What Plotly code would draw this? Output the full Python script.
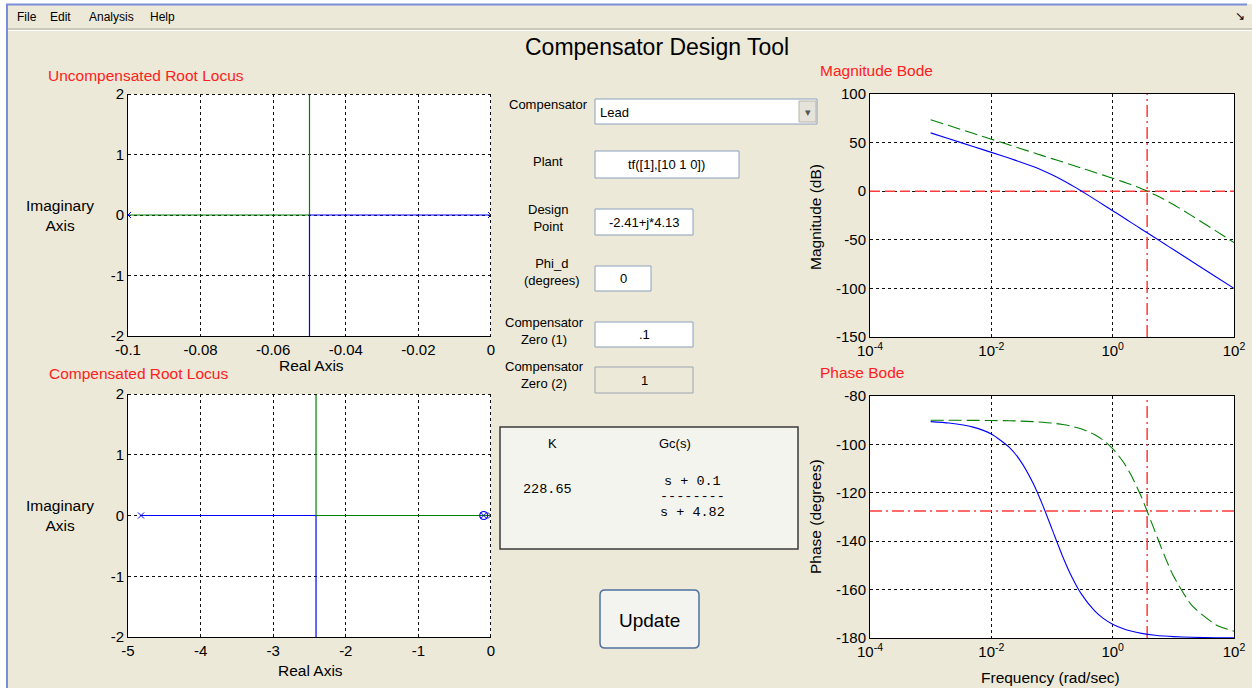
import plotly.graph_objects as go

W, H = 1252, 688
def px(x): return x / W
def py(y): return 1 - y / H

# ---------------- data ----------------
# Uncompensated root locus (plant 1/(10s^2+s))
unc_poles = [-0.1, 0.0]
unc_green_re = [-0.1, -0.05, -0.05]
unc_green_im = [0.0, 0.0, 2.5]
unc_blue_re = [0.0, -0.05, -0.05]
unc_blue_im = [0.0, 0.0, -2.5]

# Compensated root locus
comp_poles = [-4.82, -0.1, 0.0]
comp_zeros = [-0.1]
comp_blue_re = [-4.82, -2.41, -2.41]
comp_blue_im = [0.0, 0.0, -2.5]
comp_green_re = [0.0, -2.41, -2.41]
comp_green_im = [0.0, 0.0, 2.5]

# Bode data
freq = [0.001, 0.002, 0.005, 0.01, 0.02, 0.03, 0.05, 0.07, 0.1, 0.15, 0.2, 0.3,
        0.5, 0.7, 1, 1.5, 2, 3, 5, 7, 10, 20, 50, 100]
mag_unc = [60.0, 53.98, 46.01, 39.96, 33.81, 30.08, 25.05, 21.36, 16.99, 11.36, 6.99, 0.46,
           -8.13, -13.89, -20.04, -27.06, -32.05, -39.09, -47.96, -53.80, -60.0, -72.04, -87.96, -100.0]
mag_comp = [73.52, 67.50, 59.54, 53.52, 47.50, 43.97, 39.54, 36.61, 33.52, 30.00, 27.49, 23.96,
            19.49, 16.53, 13.34, 9.60, 6.81, 2.55, -3.63, -8.31, -13.73, -25.11, -40.82, -52.83]
phase_unc = [-90.57, -91.15, -92.86, -95.71, -101.31, -106.70, -116.57, -124.99, -135.0, -146.31, -153.43, -161.57,
             -168.69, -171.87, -174.29, -176.19, -177.14, -178.09, -178.85, -179.18, -179.43, -179.71, -179.89, -179.94]
phase_comp = [-90.01, -90.03, -90.06, -90.12, -90.24, -90.36, -90.60, -90.83, -91.19, -91.78, -92.37, -93.56,
              -95.92, -98.26, -101.72, -107.29, -112.54, -121.90, -136.04, -145.45, -154.26, -166.45, -174.49, -177.24]
crossover_w = 3.7
crossover_phase = -127.5
freq_range = [1e-4, 1e2]

# tick labels
rl1_xticks = [-0.1, -0.08, -0.06, -0.04, -0.02, 0]
rl1_xtext = ["-0.1", "-0.08", "-0.06", "-0.04", "-0.02", "0"]
rl2_xticks = [-5, -4, -3, -2, -1, 0]
rl2_xtext = ["-5", "-4", "-3", "-2", "-1", "0"]
rl_yticks = [-2, -1, 0, 1, 2]
rl_ytext = ["-2", "-1", "0", "1", "2"]
bode_xticks = [1e-4, 1e-2, 1e0, 1e2]
bode_xtext = ["10<sup>-4</sup>", "10<sup>-2</sup>", "10<sup>0</sup>", "10<sup>2</sup>"]
mag_yticks = [-150, -100, -50, 0, 50, 100]
mag_ytext = ["-150", "-100", "-50", "0", "50", "100"]
ph_yticks = [-180, -160, -140, -120, -100, -80]
ph_ytext = ["-180", "-160", "-140", "-120", "-100", "-80"]

# ---------------- styling ----------------
BG = "#ECE9D8"
BLUE = "#0000FF"
GREEN = "#008000"
RED = "#FF3B3B"
SANS = "Liberation Sans, Arial, sans-serif"
MONO = "Liberation Mono, Courier New, monospace"
GRID = dict(showgrid=True, gridcolor="#111111", gridwidth=1, griddash="3px,3px",
            zeroline=False, showline=True, linecolor="#000000", linewidth=1, automargin=False,
            tickfont=dict(family=SANS, size=15, color="#000000"), ticks="")

fig = go.Figure()

# Uncompensated root locus
fig.add_trace(go.Scatter(x=unc_green_re, y=unc_green_im, mode="lines",
                         line=dict(color=GREEN, width=1.2), xaxis="x", yaxis="y"))
fig.add_trace(go.Scatter(x=unc_blue_re, y=unc_blue_im, mode="lines",
                         line=dict(color=BLUE, width=1.2), xaxis="x", yaxis="y"))
fig.add_trace(go.Scatter(x=unc_poles, y=[0] * len(unc_poles), mode="markers",
                         marker=dict(symbol="x-thin", size=6, line=dict(color=BLUE, width=1)),
                         xaxis="x", yaxis="y"))

# Compensated root locus
fig.add_trace(go.Scatter(x=comp_blue_re, y=comp_blue_im, mode="lines",
                         line=dict(color=BLUE, width=1.2), xaxis="x2", yaxis="y2"))
fig.add_trace(go.Scatter(x=comp_green_re, y=comp_green_im, mode="lines",
                         line=dict(color=GREEN, width=1.2), xaxis="x2", yaxis="y2"))
fig.add_trace(go.Scatter(x=comp_poles, y=[0] * len(comp_poles), mode="markers",
                         marker=dict(symbol="x-thin", size=6, line=dict(color=BLUE, width=1)),
                         xaxis="x2", yaxis="y2"))
fig.add_trace(go.Scatter(x=comp_zeros, y=[0] * len(comp_zeros), mode="markers",
                         marker=dict(symbol="circle-open", size=8, color=BLUE, line=dict(width=1.2)),
                         xaxis="x2", yaxis="y2"))

# Magnitude Bode
fig.add_trace(go.Scatter(x=freq_range, y=[0, 0], mode="lines",
                         line=dict(color=RED, width=1.5, dash="10px,5px"), xaxis="x3", yaxis="y3"))
fig.add_trace(go.Scatter(x=[crossover_w, crossover_w], y=[-150, 100], mode="lines",
                         line=dict(color=RED, width=1.5, dash="12px,4px,2px,4px"), xaxis="x3", yaxis="y3"))
fig.add_trace(go.Scatter(x=freq, y=mag_unc, mode="lines", line_shape="spline",
                         line=dict(color=BLUE, width=1.1, smoothing=0.6), xaxis="x3", yaxis="y3"))
fig.add_trace(go.Scatter(x=freq, y=mag_comp, mode="lines", line_shape="spline",
                         line=dict(color=GREEN, width=1.1, dash="13px,5px", smoothing=0.6),
                         xaxis="x3", yaxis="y3"))

# Phase Bode
fig.add_trace(go.Scatter(x=freq_range, y=[crossover_phase, crossover_phase], mode="lines",
                         line=dict(color=RED, width=1.5, dash="12px,4px,2px,4px"), xaxis="x4", yaxis="y4"))
fig.add_trace(go.Scatter(x=[crossover_w, crossover_w], y=[-180, -80], mode="lines",
                         line=dict(color=RED, width=1.5, dash="12px,4px,2px,4px"), xaxis="x4", yaxis="y4"))
fig.add_trace(go.Scatter(x=freq, y=phase_unc, mode="lines", line_shape="spline",
                         line=dict(color=BLUE, width=1.1, smoothing=0.6), xaxis="x4", yaxis="y4"))
fig.add_trace(go.Scatter(x=freq, y=phase_comp, mode="lines", line_shape="spline",
                         line=dict(color=GREEN, width=1.1, dash="13px,5px", smoothing=0.6),
                         xaxis="x4", yaxis="y4"))

# ---------------- axes ----------------
fig.update_layout(
    width=W, height=H, autosize=False,
    margin=dict(l=0, r=0, t=0, b=0, pad=0, autoexpand=False),
    paper_bgcolor=BG, plot_bgcolor="#FFFFFF",
    showlegend=False,
    xaxis=dict(domain=[px(128), px(491)], range=[-0.1, 0], tickvals=rl1_xticks, ticktext=rl1_xtext,
               anchor="y", **GRID),
    yaxis=dict(domain=[py(336), py(94)], range=[-2, 2], tickvals=rl_yticks, ticktext=rl_ytext,
               anchor="x", **GRID),
    xaxis2=dict(domain=[px(128), px(491)], range=[-5, 0], tickvals=rl2_xticks, ticktext=rl2_xtext,
                anchor="y2", **GRID),
    yaxis2=dict(domain=[py(637), py(394)], range=[-2, 2], tickvals=rl_yticks, ticktext=rl_ytext,
                anchor="x2", **GRID),
    xaxis3=dict(domain=[px(870), px(1234)], type="log", range=[-4, 2], tickvals=bode_xticks,
                ticktext=bode_xtext, anchor="y3", mirror=True, **GRID),
    yaxis3=dict(domain=[py(337), py(94)], range=[-150, 100], tickvals=mag_yticks, ticktext=mag_ytext,
                anchor="x3", mirror=True, **GRID),
    xaxis4=dict(domain=[px(870), px(1234)], type="log", range=[-4, 2], tickvals=bode_xticks,
                ticktext=bode_xtext, anchor="y4", mirror=True, **GRID),
    yaxis4=dict(domain=[py(638), py(396)], range=[-180, -80], tickvals=ph_yticks, ticktext=ph_ytext,
                anchor="x4", mirror=True, **GRID),
)

shapes = []
def rect(x0, y0, x1, y1, fill, line=None, lw=1, layer="above"):
    shapes.append(dict(type="rect", xref="paper", yref="paper",
                       x0=px(x0), x1=px(x1), y0=py(y1), y1=py(y0),
                       fillcolor=fill, layer=layer,
                       line=dict(color=line if line else fill, width=lw if line else 0)))
def hline(x0, x1, y, color, lw=1, dash="solid"):
    shapes.append(dict(type="line", xref="paper", yref="paper", x0=px(x0), x1=px(x1),
                       y0=py(y), y1=py(y), line=dict(color=color, width=lw, dash=dash)))
def vline(x, y0, y1, color, lw=1, dash="solid"):
    shapes.append(dict(type="line", xref="paper", yref="paper", x0=px(x), x1=px(x),
                       y0=py(y0), y1=py(y1), line=dict(color=color, width=lw, dash=dash)))

# window frame
rect(0, 0, W, 4, "#FFFFFF", layer="below")
rect(0, 0, 6, H, "#FFFFFF", layer="below")
hline(6, 1247, 4.5, "#7B8FD8", lw=2)
vline(7, 4, H, "#7B8FD8", lw=2)
hline(8, W, 29, "#ACA899", lw=1)
hline(8, W, 30.5, "#FFFFFF", lw=1)

# dashed box edges on root-locus plots (box off: grid lines at edges)
for (x0, y0, x1, y1) in [(128, 94, 491, 336), (128, 394, 491, 637)]:
    hline(x0, x1, y0 + 0.5, "#111111", 1, "3px,3px")
    vline(x1 - 0.5, y0, y1, "#111111", 1, "3px,3px")

# edit boxes
EB = "#8BA0BC"
rect(595, 99, 817, 124, "#FFFFFF", EB, 1)          # dropdown
rect(799, 101, 816, 122, "#E6E4DA", "#B7B4A8", 1)   # dropdown button
rect(595, 151, 739, 178, "#FFFFFF", EB, 1)
rect(595, 209, 693, 235, "#FFFFFF", EB, 1)
rect(595, 266, 651, 291, "#FFFFFF", EB, 1)
rect(595, 322, 693, 347, "#FFFFFF", EB, 1)
rect(595, 367, 693, 393, BG, "#9AA6B2", 1)

# K / Gc box
rect(500, 427, 798, 549, "#F4F4EE", "#3A3A3A", 1.5)

# Update button (rounded)
bx0, by0, bx1, by1, r = 600, 590, 699, 648, 5
path = (f"M {px(bx0 + r)},{py(by0)} L {px(bx1 - r)},{py(by0)} "
        f"Q {px(bx1)},{py(by0)} {px(bx1)},{py(by0 + r)} "
        f"L {px(bx1)},{py(by1 - r)} Q {px(bx1)},{py(by1)} {px(bx1 - r)},{py(by1)} "
        f"L {px(bx0 + r)},{py(by1)} Q {px(bx0)},{py(by1)} {px(bx0)},{py(by1 - r)} "
        f"L {px(bx0)},{py(by0 + r)} Q {px(bx0)},{py(by0)} {px(bx0 + r)},{py(by0)} Z")
shapes.append(dict(type="path", xref="paper", yref="paper", path=path,
                   fillcolor="#F3F3EF", line=dict(color="#4F72A0", width=1.5)))

fig.update_layout(shapes=shapes)

# ---------------- text ----------------
ann = []
def txt(x, y, s, size=13, color="#000000", xanchor="center", family=SANS, angle=0, yanchor="middle"):
    ann.append(dict(x=px(x), y=py(y), xref="paper", yref="paper", text=s, showarrow=False,
                    xanchor=xanchor, yanchor=yanchor, textangle=angle, align="center",
                    font=dict(family=family, size=size, color=color)))

# menu
txt(15, 17, "File", 12, xanchor="left")
txt(48, 17, "Edit", 12, xanchor="left")
txt(87, 17, "Analysis", 12, xanchor="left")
txt(148, 17, "Help", 12, xanchor="left")
txt(1240, 16, "↘", 12)

# main title
txt(657, 47, "Compensator Design Tool", 23)

# plot titles
txt(46, 76, "Uncompensated Root Locus", 15.5, "#FF2020", xanchor="left")
txt(47, 373, "Compensated Root Locus", 15.5, "#FF2020", xanchor="left")
txt(818, 71, "Magnitude Bode", 15.5, "#FF2020", xanchor="left")
txt(818, 372, "Phase Bode", 15.5, "#FF2020", xanchor="left")

# axis labels
txt(60, 215.5, "Imaginary<br>Axis", 15.5)
txt(60, 515.5, "Imaginary<br>Axis", 15.5)
txt(311, 366, "Real Axis", 15.5)
txt(310, 670, "Real Axis", 15.5)
txt(815, 217, "Magnitude (dB)", 15.5, angle=-90)
txt(815, 517, "Phase (degrees)", 15.5, angle=-90)
txt(1050, 677, "Frequency (rad/sec)", 15.5)

# UI labels
txt(548, 105, "Compensator", 13)
txt(548, 162, "Plant", 13)
txt(548, 217.5, "Design<br>Point", 13)
txt(552, 272, "Phi_d<br>(degrees)", 13)
txt(544, 331, "Compensator<br>Zero (1)", 13)
txt(544, 374.5, "Compensator<br>Zero (2)", 13)

# UI field contents
txt(598, 112, "Lead", 13, xanchor="left")
txt(807.5, 112, "▾", 11, "#555555")
txt(667, 164.5, "tf([1],[10 1 0])", 13)
txt(644, 222, "-2.41+j*4.13", 13)
txt(623, 278.5, "0", 13)
txt(644, 334.5, ".1", 13)
txt(644, 380, "1", 13)

# K / Gc box
txt(552, 443, "K", 13)
txt(675, 443, "Gc(s)", 13)
txt(547, 489, "228.65", 13.5, family=MONO)
txt(693, 481, "s + 0.1", 13.5, family=MONO)
txt(693, 497, "--------", 13.5, family=MONO)
txt(693, 512, "s + 4.82", 13.5, family=MONO)

# Update button
txt(649.5, 620, "Update", 19)

fig.update_layout(annotations=ann)

fig.write_html("out.html", config={"displayModeBar": False})
